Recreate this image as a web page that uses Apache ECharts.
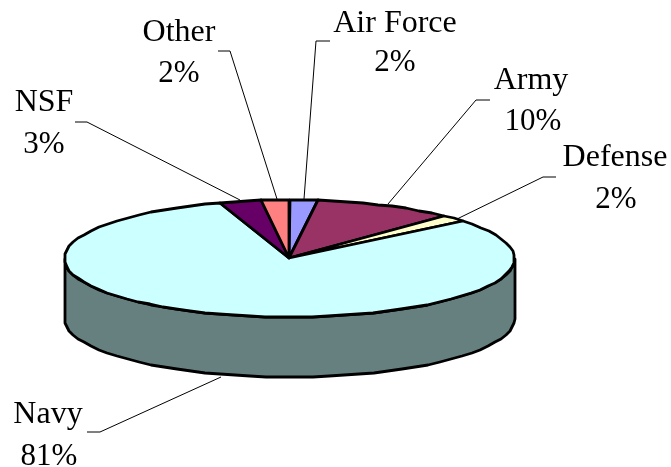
<!DOCTYPE html>
<html>
<head>
<meta charset="utf-8">
<style>html,body{margin:0;padding:0;background:#fff}#c{width:671px;height:467px}</style>
<script src="https://cdn.jsdelivr.net/npm/echarts@6/dist/echarts.min.js"></script>
</head>
<body>
<div id="c"></div>
<script>
const categories = ['Air Force', 'Army', 'Defense', 'Navy', 'NSF', 'Other'];
const shares = [2, 10, 2, 81, 3, 2];
const topColors = ['#9999FF', '#993366', '#FFFFCC', '#CCFFFF', '#660066', '#FF8080'];
const sideColors = ['#4D4D80', '#4D1A33', '#808066', '#668080', '#330033', '#804040'];

// layout only
const pieGeom = { cx: 289.5, cy: 258.5, rx: 225, ry: 58.5, depth: 60, step: 4 };
const nameAt = [[395, 24], [531, 81], [615, 158], [48, 415], [44, 103], [179, 33]];
const pctAt = [[395, 63], [533, 122], [616, 200], [49, 457], [44, 145], [179, 74]];
const leaders = [
  [[330, 41], [316, 41], [304, 199]],
  [[490, 100], [476, 100], [388, 204]],
  [[556, 177], [543, 177], [457, 219]],
  [[87, 432], [100, 432], [221, 377]],
  [[75, 122], [87, 122], [240, 200]],
  [[218, 51], [230, 51], [277, 199]]
];

const total = shares.reduce((a, b) => a + b, 0);
function pt(a, dy) {
  return [Math.round(pieGeom.cx + pieGeom.rx * Math.sin(a)),
          Math.round(pieGeom.cy - pieGeom.ry * Math.cos(a) + (dy || 0))];
}
function arc(a0, a1, dy) {
  const st = pieGeom.step * Math.PI / 180, out = [];
  const n = Math.max(1, Math.ceil((a1 - a0) / st));
  for (let i = 0; i <= n; i++) out.push(pt(a0 + (a1 - a0) * i / n, dy));
  return out;
}
function renderSlice(params, api) {
  const i = params.dataIndex;
  let before = 0;
  for (let k = 0; k < i; k++) before += shares[k];
  const a0 = before / total * 2 * Math.PI;
  const a1 = (before + api.value(1)) / total * 2 * Math.PI;
  const children = [];
  const wa0 = Math.max(a0, Math.PI / 2), wa1 = Math.min(a1, 1.5 * Math.PI);
  if (wa1 > wa0) {
    const lower = arc(wa0, wa1, pieGeom.depth);
    const upper = arc(wa0, wa1, 0).reverse();
    children.push({
      type: 'polygon', shape: { points: lower.concat(upper) },
      style: { fill: sideColors[i], stroke: '#000', lineWidth: 2.8, lineJoin: 'round' }
    });
  }
  const apex = [289, 258];
  children.push({
    type: 'polygon', shape: { points: [apex].concat(arc(a0, a1, 0)) },
    style: { fill: topColors[i], stroke: '#000', lineWidth: 2.8, lineJoin: 'round' }
  });
  return { type: 'group', children };
}
function renderLabel(params, api) {
  const i = params.dataIndex;
  const font = { fontFamily: '"Liberation Serif"', fill: '#000', align: 'center', verticalAlign: 'middle' };
  return {
    type: 'group',
    children: [
      { type: 'polyline', shape: { points: leaders[i] }, style: { stroke: '#000', lineWidth: 1, fill: null } },
      { type: 'text', x: nameAt[i][0], y: nameAt[i][1], style: Object.assign({ text: categories[i], fontSize: 32 }, font) },
      { type: 'text', x: pctAt[i][0], y: pctAt[i][1], style: Object.assign({ text: api.value(1) + '%', fontSize: 31 }, font) }
    ]
  };
}
const rows = categories.map((c, i) => [c, shares[i]]);
const chart = echarts.init(document.getElementById('c'), null, { renderer: 'canvas' });
chart.setOption({
  animation: false,
  backgroundColor: '#fff',
  series: [
    { type: 'custom', coordinateSystem: 'none', data: rows, renderItem: renderLabel, z: 1, silent: true },
    { type: 'custom', coordinateSystem: 'none', data: rows, renderItem: renderSlice, z: 2, silent: true }
  ]
});
</script>
</body>
</html>
